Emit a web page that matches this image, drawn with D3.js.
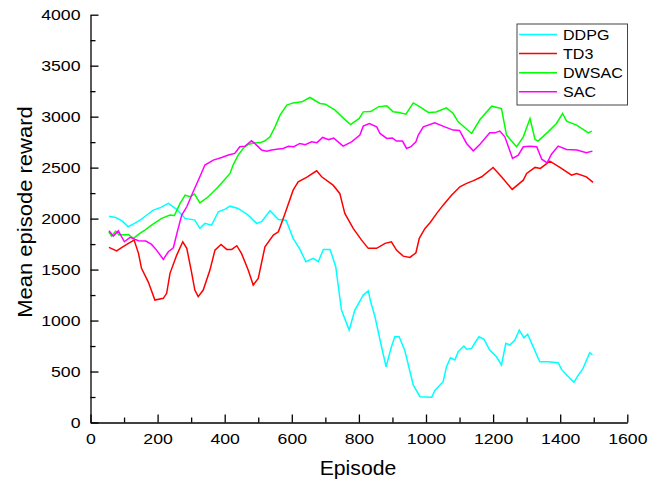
<!DOCTYPE html>
<meta charset="utf-8">

<style>
body { margin: 0; background: #fff; }
svg { font-family: "Liberation Sans", Arial, sans-serif; }
.axis path, .axis line { stroke: #000; stroke-width: 1.3px; }
.axis text { font-size: 15.5px; fill: #000; }
.series { fill: none; stroke-width: 1.5px; }
.legend text { font-size: 15px; }
.title { font-size: 20px; }
</style>

<body>
<script src="https://d3js.org/d3.v7.min.js"></script>
<script>

// values: [episode, mean reward]
var ddpg = [[55,2024],[75,2010],[95,1975],[112,1920],[130,1950],[150,1990],[170,2040],[187,2083],[210,2110],[232,2149],[257,2090],[282,2002],[311,1985],[326,1904],[341,1953],[361,1936],[381,2067],[400,2090],[416,2122],[440,2100],[470,2034],[495,1953],[510,1970],[535,2077],[560,1990],[583,1985],[604,1806],[624,1700],[642,1577],[664,1610],[679,1577],[694,1698],[714,1698],[731,1528],[748,1103],[771,907],[788,1103],[813,1250],[828,1292],[835,1184],[848,1037],[863,809],[881,547],[897,743],[907,841],[920,841],[937,704],[962,368],[982,253],[1017,247],[1026,312],[1051,400],[1061,547],[1073,635],[1086,613],[1096,694],[1113,750],[1121,718],[1136,727],[1146,782],[1158,841],[1173,815],[1190,711],[1210,645],[1225,564],[1238,776],[1250,760],[1265,809],[1278,907],[1292,831],[1303,866],[1315,776],[1339,596],[1364,596],[1394,586],[1404,521],[1419,466],[1441,394],[1451,450],[1468,531],[1488,684],[1496,662]];

var td3 = [[55,1718],[78,1684],[95,1720],[113,1757],[130,1789],[143,1659],[152,1512],[172,1380],[192,1201],[217,1218],[227,1267],[237,1463],[257,1642],[275,1773],[287,1708],[300,1495],[311,1299],[321,1234],[336,1299],[356,1495],[371,1691],[389,1747],[406,1698],[421,1698],[436,1734],[450,1659],[470,1495],[485,1348],[500,1413],[520,1724],[545,1838],[560,1871],[578,2034],[585,2100],[604,2279],[619,2361],[644,2404],[674,2469],[689,2410],[723,2328],[743,2247],[758,2051],[783,1904],[808,1789],[828,1708],[853,1708],[878,1757],[897,1773],[912,1691],[932,1632],[952,1619],[970,1665],[980,1806],[997,1904],[1012,1959],[1032,2051],[1051,2132],[1076,2230],[1101,2312],[1121,2345],[1140,2370],[1166,2410],[1200,2502],[1225,2410],[1257,2286],[1290,2377],[1300,2443],[1325,2502],[1341,2492],[1369,2564],[1399,2502],[1434,2426],[1449,2443],[1478,2410],[1498,2355]];

var dwsac = [[55,1871],[63,1828],[75,1877],[85,1840],[113,1845],[128,1806],[145,1850],[162,1887],[182,1936],[212,2002],[237,2034],[250,2030],[267,2149],[282,2230],[296,2214],[310,2240],[326,2155],[351,2214],[381,2312],[416,2443],[425,2525],[440,2623],[455,2688],[470,2727],[490,2743],[505,2743],[520,2763],[535,2802],[550,2900],[565,3015],[585,3113],[604,3135],[630,3145],[654,3188],[684,3129],[700,3122],[729,3064],[753,2988],[775,2923],[801,2982],[813,3047],[835,3050],[858,3096],[883,3106],[902,3047],[920,3040],[940,3024],[962,3135],[982,3096],[1007,3041],[1030,3045],[1061,3086],[1081,3031],[1096,2949],[1136,2835],[1161,2972],[1196,3103],[1225,3080],[1240,2819],[1270,2704],[1290,2802],[1310,2982],[1325,2776],[1334,2760],[1364,2851],[1389,2933],[1407,3031],[1419,2956],[1449,2917],[1484,2841],[1494,2858]];

var sac = [[55,1880],[68,1828],[83,1880],[101,1773],[118,1816],[143,1783],[165,1780],[182,1747],[197,1691],[217,1600],[232,1675],[247,1714],[260,1887],[272,2034],[287,2116],[306,2263],[326,2410],[341,2525],[366,2574],[391,2600],[411,2623],[430,2639],[445,2704],[460,2710],[480,2763],[495,2721],[510,2672],[525,2660],[540,2672],[555,2680],[574,2688],[590,2710],[606,2705],[624,2737],[640,2725],[659,2753],[675,2745],[692,2796],[710,2775],[725,2790],[753,2711],[778,2753],[803,2819],[813,2907],[831,2933],[853,2900],[863,2835],[883,2786],[900,2790],[912,2760],[930,2760],[942,2688],[955,2705],[970,2753],[977,2819],[992,2900],[1026,2939],[1056,2900],[1081,2868],[1100,2865],[1121,2737],[1141,2665],[1161,2730],[1190,2841],[1205,2841],[1220,2858],[1235,2802],[1258,2590],[1275,2623],[1290,2704],[1310,2710],[1330,2704],[1345,2583],[1361,2547],[1374,2632],[1394,2711],[1419,2678],[1450,2672],[1478,2645],[1496,2662]];

var names = ["DDPG", "TD3", "DWSAC", "SAC"];
var colors = ["#00ffff", "#ff0000", "#00ff00", "#ff00ff"];
var seriesData = [ddpg, td3, dwsac, sac];

var xTicks = [0, 200, 400, 600, 800, 1000, 1200, 1400, 1600];
var yTicks = [0, 500, 1000, 1500, 2000, 2500, 3000, 3500, 4000];

var width = 661,
    height = 481;

var svg = d3.select("body").append("svg")
    .attr("width", width)
    .attr("height", height);

var x = d3.scaleLinear().domain([0, 1600]).range([90.5, 627.3]);
var y = d3.scaleLinear().domain([0, 4000]).range([422.5, 14.7]);

// stretch text sideways a little, the reference font runs wider than Arial
function widen(sel, f) {
  sel.each(function() {
    var w = this.getComputedTextLength();
    d3.select(this).attr("textLength", w * f).attr("lengthAdjust", "spacingAndGlyphs");
  });
}

// minor ticks
svg.append("g")
    .attr("class", "axis")
    .attr("transform", "translate(0," + y(0) + ")")
    .call(d3.axisBottom(x).tickValues(d3.range(100, 1600, 200)).tickSize(-5).tickFormat(""))
    .select(".domain").remove();

svg.append("g")
    .attr("class", "axis")
    .attr("transform", "translate(" + x(0) + ",0)")
    .call(d3.axisLeft(y).tickValues(d3.range(250, 4000, 500)).tickSize(-5).tickFormat(""))
    .select(".domain").remove();

// major axes
var gx = svg.append("g")
    .attr("class", "axis")
    .attr("transform", "translate(0," + y(0) + ")")
    .call(d3.axisBottom(x).tickValues(xTicks).tickFormat(d3.format("d"))
      .tickSizeInner(-8).tickSizeOuter(0).tickPadding(10));

var gy = svg.append("g")
    .attr("class", "axis")
    .attr("transform", "translate(" + x(0) + ",0)")
    .call(d3.axisLeft(y).tickValues(yTicks).tickFormat(d3.format("d"))
      .tickSizeInner(-8).tickSizeOuter(0).tickPadding(10));

widen(gx.selectAll("text"), 1.14);
widen(gy.selectAll("text"), 1.14);

// lines
var line = d3.line()
    .x(function(d) { return x(d[0]); })
    .y(function(d) { return y(d[1]); });

svg.selectAll(".series")
    .data(seriesData)
  .enter().append("path")
    .attr("class", "series")
    .attr("stroke", function(d, i) { return colors[i]; })
    .attr("d", line);

// axis titles
svg.append("text")
    .attr("class", "title")
    .attr("x", 358)
    .attr("y", 475)
    .attr("text-anchor", "middle")
    .text("Episode")
    .call(widen, 1.06);

svg.append("text")
    .attr("class", "title")
    .attr("transform", "translate(31.5,212) rotate(-90)")
    .attr("text-anchor", "middle")
    .text("Mean episode reward")
    .call(widen, 1.1);

// legend
var legend = svg.append("g").attr("class", "legend");

legend.append("rect")
    .attr("x", 517)
    .attr("y", 24)
    .attr("width", 110.5)
    .attr("height", 81)
    .attr("fill", "#fff")
    .attr("stroke", "#444")
    .attr("stroke-width", 1);

var item = legend.selectAll(".item")
    .data(names)
  .enter().append("g")
    .attr("class", "item")
    .attr("transform", function(d, i) { return "translate(0," + (34.5 + i * 19.1) + ")"; });

item.append("line")
    .attr("x1", 519).attr("x2", 557)
    .attr("stroke", function(d, i) { return colors[i]; })
    .attr("stroke-width", 1.5);

item.append("text")
    .attr("x", 563)
    .attr("dy", "0.36em")
    .text(function(d) { return d; })
    .call(widen, 1.07);

</script>
</body>
